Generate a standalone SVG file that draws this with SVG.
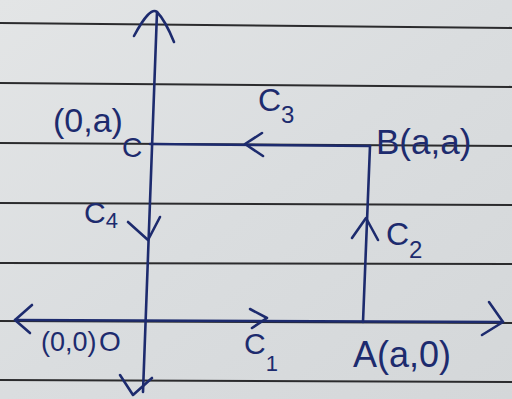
<svg xmlns="http://www.w3.org/2000/svg" width="512" height="399" viewBox="0 0 512 399">
  <defs>
    <linearGradient id="paper" x1="0" y1="0" x2="1" y2="1">
      <stop offset="0" stop-color="#e3e5e6"/>
      <stop offset="0.5" stop-color="#dadddf"/>
      <stop offset="1" stop-color="#d4d7d9"/>
    </linearGradient>
  </defs>
  <style>
    .rule { stroke: #2b2b2d; stroke-width: 2.2; fill: none; }
    .ink { stroke: #1d2b6e; stroke-width: 2.6; fill: none; stroke-linecap: round; stroke-linejoin: round; }
    .lbl { font-family: "Liberation Sans", "DejaVu Sans", sans-serif; fill: #1d2b6e; }
  </style>
  <rect width="512" height="399" fill="url(#paper)"/>
  <g id="paper-lines">
    <line class="rule" x1="0" y1="23" x2="512" y2="28"/>
    <line class="rule" x1="0" y1="83" x2="512" y2="87"/>
    <line class="rule" x1="0" y1="143" x2="512" y2="146"/>
    <line class="rule" x1="0" y1="203" x2="512" y2="205"/>
    <line class="rule" x1="0" y1="263" x2="512" y2="264"/>
    <line class="rule" x1="0" y1="321" x2="512" y2="323"/>
    <line class="rule" x1="0" y1="380" x2="512" y2="382"/>
  </g>
  <g id="connectors">
    <!-- y-axis -->
    <path class="ink" d="M157 12 L143 392"/>
    <path class="ink" d="M134 36 Q150 6 157 12 Q165 20 174 42"/>
    <path class="ink" d="M120 375 L133 395 L152 378"/>
    <!-- x-axis -->
    <path class="ink" d="M15 320 L503 322"/>
    <path class="ink" d="M32 305 L15 320 L30 333"/>
    <path class="ink" d="M489 302 L503 322 L482 335"/>
    <!-- C1 arrow -->
    <path class="ink" d="M250 309 L267 318 L252 328"/>
    <!-- x = a line -->
    <path class="ink" d="M370 146 L363 322"/>
    <path class="ink" d="M352 238 L366 218 L378 240"/>
    <!-- y = a line -->
    <path class="ink" d="M150 144 L370 146"/>
    <path class="ink" d="M262 133 L245 144 L263 156"/>
    <!-- C4 arrow -->
    <path class="ink" d="M128 222 L148 240 L160 217"/>
  </g>
  <g id="node-C">
    <text class="lbl" x="53" y="132" font-size="34">(0,a)</text>
    <text class="lbl" x="122" y="157" font-size="28">C</text>
  </g>
  <g id="node-B">
    <text class="lbl" x="376" y="154" font-size="35">B(a,a)</text>
  </g>
  <g id="node-O">
    <text class="lbl" x="41" y="351" font-size="27">(0,0)</text>
    <text class="lbl" x="99" y="351" font-size="28">O</text>
  </g>
  <g id="node-A">
    <text class="lbl" x="353" y="367" font-size="36">A(a,0)</text>
  </g>
  <g id="label-C1">
    <text class="lbl" x="244" y="354" font-size="30">C<tspan font-size="22" dy="17">1</tspan></text>
  </g>
  <g id="label-C2">
    <text class="lbl" x="386" y="245" font-size="32">C<tspan font-size="24" dy="13">2</tspan></text>
  </g>
  <g id="label-C3">
    <text class="lbl" x="258" y="111" font-size="32">C<tspan font-size="24" dy="12">3</tspan></text>
  </g>
  <g id="label-C4">
    <text class="lbl" x="84" y="223" font-size="30">C<tspan font-size="22" dy="5">4</tspan></text>
  </g>
</svg>
